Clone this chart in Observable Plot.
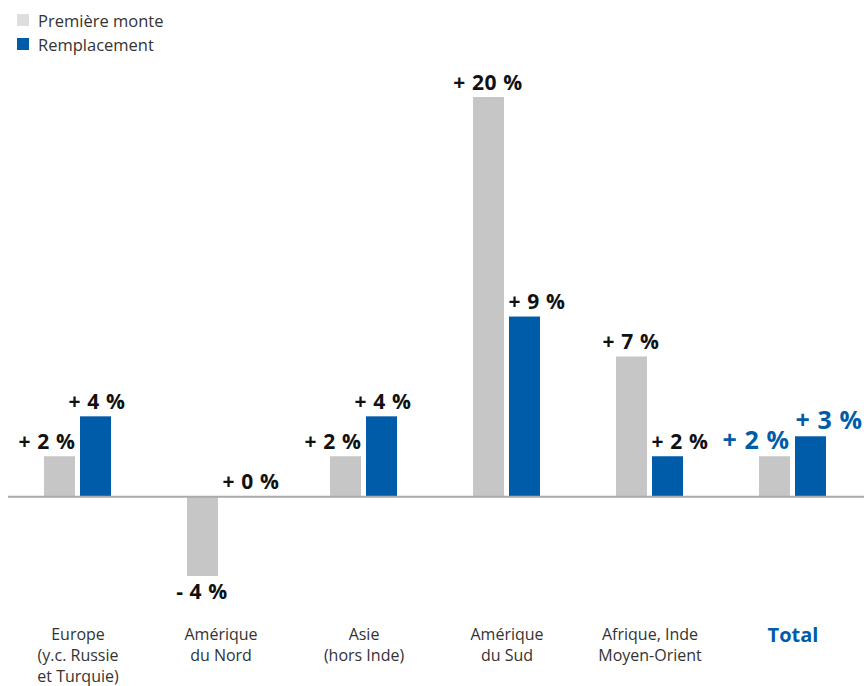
<!DOCTYPE html>
<html><head><meta charset="utf-8">
<script src="https://cdn.jsdelivr.net/npm/d3@7"></script>
<script src="https://cdn.jsdelivr.net/npm/@observablehq/plot@0.6"></script>
<style>
body{margin:0;background:#fff;font-family:"Open Sans","Noto Sans",sans-serif;}
#legend{height:60px;padding-left:17px;padding-top:8px;box-sizing:border-box;font-size:16.5px;color:#333;}
.item{display:flex;align-items:center;height:24px;}
.sw{width:12px;height:12px;margin-right:9px;}
#chart text.val{letter-spacing:0.6px;}
</style></head>
<body>
<div id="legend">
  <div class="item"><div class="sw" style="background:#dedede"></div>Première monte</div>
  <div class="item"><div class="sw" style="background:#005ca9"></div>Remplacement</div>
</div>
<div id="chart"></div>
<script>
const categories = ["Europe\n(y.c. Russie\net Turquie)", "Amérique\ndu Nord", "Asie\n(hors Inde)", "Amérique\ndu Sud", "Afrique, Inde\nMoyen-Orient", "Total"];
const premiereMonte = [2, -4, 2, 20, 7, 2];
const remplacement = [4, 0, 4, 9, 2, 3];

const GREY = "#c6c6c6", BLUE = "#005ca9";
const rows = categories.map((c, i) => ({cat: c, pm: premiereMonte[i], rp: remplacement[i], total: c === "Total"}));
const fmt = v => (v >= 0 ? "+ " : "- ") + Math.abs(v) + " %";
const greyShift = d => d.pm >= 0 && d.rp > d.pm;
const blueShift = d => !(d.rp > d.pm + 1 && d.pm > 0);

function valueLabels(key, filter, dx, color, size) {
  const data = rows.filter(filter);
  return [
    Plot.text(data.filter(d => d[key] >= 0), {x: "cat", y: key, text: d => fmt(d[key]), dx, dy: -8, lineAnchor: "bottom", fill: color, fontSize: size, fontWeight: "bold"}),
    Plot.text(data.filter(d => d[key] < 0), {x: "cat", y: key, text: d => fmt(d[key]), dx, dy: 8, lineAnchor: "top", fill: color, fontSize: size, fontWeight: "bold"})
  ];
}

const chart = Plot.plot({
  width: 864,
  height: 626,
  marginLeft: 8,
  marginRight: 0,
  marginTop: 0,
  marginBottom: 60,
  style: {fontFamily: '"Open Sans","Noto Sans",sans-serif', background: "#fff"},
  x: {domain: categories, range: [6, 864], padding: 0, axis: null},
  y: {domain: [-4, 20], range: [516, 37], axis: null},
  marks: [
    Plot.barY(rows, {x: "cat", y: "pm", fill: GREY, insetLeft: 38, insetRight: 74}),
    Plot.barY(rows, {x: "cat", y: "rp", fill: BLUE, insetLeft: 74, insetRight: 38}),
    Plot.ruleY([0], {stroke: "#aaaaaa", strokeWidth: 2}),
    ...valueLabels("pm", d => !d.total && !greyShift(d), -19, "#111", 21),
    ...valueLabels("pm", d => !d.total && greyShift(d), -31, "#111", 21),
    ...valueLabels("rp", d => !d.total && !blueShift(d), 19, "#111", 21),
    ...valueLabels("rp", d => !d.total && blueShift(d), 30, "#111", 21),
    ...valueLabels("pm", d => d.total, -37, BLUE, 25),
    ...valueLabels("rp", d => d.total, 36, BLUE, 25),
    Plot.text(rows.filter(d => !d.total), {x: "cat", text: "cat", frameAnchor: "bottom", lineAnchor: "top", dy: -1, fontSize: 16, fill: "#333", lineHeight: 1.3}),
    Plot.text(rows.filter(d => d.total), {x: "cat", text: "cat", frameAnchor: "bottom", lineAnchor: "top", dy: 1, fontSize: 20, fontWeight: "bold", fill: BLUE})
  ]
});
d3.select(chart).selectAll("g[aria-label=text] text").filter(function() { return /%/.test(this.textContent); }).classed("val", true);
document.getElementById("chart").appendChild(chart);
</script>
</body></html>
